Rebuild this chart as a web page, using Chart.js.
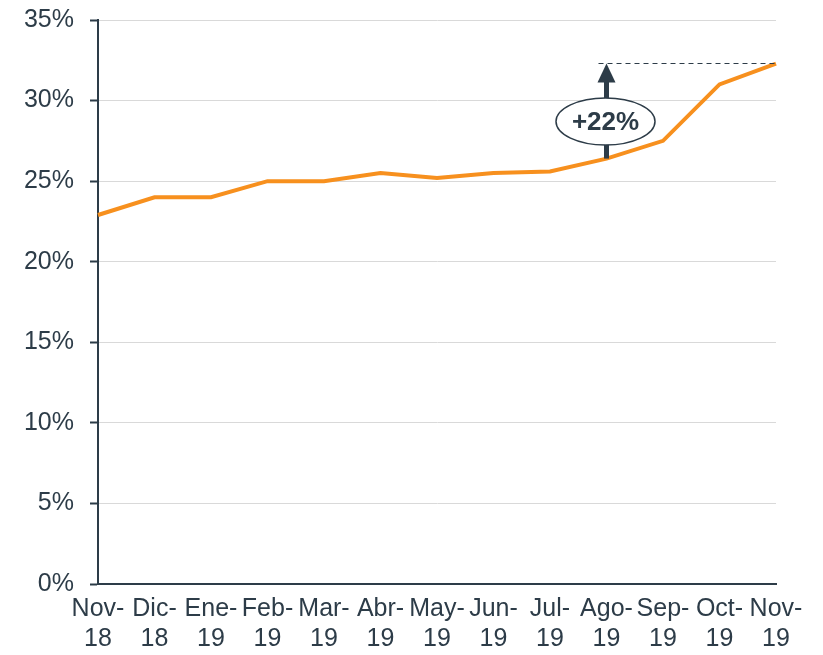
<!DOCTYPE html>
<html>
<head>
<meta charset="utf-8">
<script src="https://cdn.jsdelivr.net/npm/chart.js@4/dist/chart.umd.min.js"></script>
<style>
  html, body { margin: 0; padding: 0; background: #fff; }
  #wrap { width: 823px; height: 655px; position: relative; }
</style>
</head>
<body>
<div id="wrap"><canvas id="share-chart"></canvas></div>
<script>
// Monthly share, Nov-18 to Nov-19
const months = [
  ["Nov-", "18"], ["Dic-", "18"], ["Ene-", "19"], ["Feb-", "19"], ["Mar-", "19"],
  ["Abr-", "19"], ["May-", "19"], ["Jun-", "19"], ["Jul-", "19"], ["Ago-", "19"],
  ["Sep-", "19"], ["Oct-", "19"], ["Nov-", "19"]
];
const shareValues = [22.9, 24.0, 24.0, 25.0, 25.0, 25.5, 25.2, 25.5, 25.6, 26.4, 27.5, 31.0, 32.3];
const yTicks = [0, 5, 10, 15, 20, 25, 30, 35];

// growth callout: from Ago-19 up to the last month
const growthFrom = 9;
const growthTo = 12;
const growthLabel = "+22%";
const growthLabelValue = 28.7;

const ink = "#2d3c48";
const orange = "#f7901e";

// draws the arrow, dashed level line and the ellipse label
const growthCallout = {
  id: "growthCallout",
  afterDatasetsDraw(chart) {
    const ctx = chart.ctx;
    const x = chart.scales.x;
    const y = chart.scales.y;
    const ax = x.getPixelForValue(growthFrom);
    const yBottom = y.getPixelForValue(shareValues[growthFrom]);
    const yTop = y.getPixelForValue(shareValues[growthTo]);
    const xEnd = x.getPixelForValue(growthTo);

    ctx.save();
    // dashed level line
    ctx.strokeStyle = ink;
    ctx.lineWidth = 1;
    ctx.setLineDash([5, 4]);
    ctx.beginPath();
    ctx.moveTo(ax - 8, yTop);
    ctx.lineTo(xEnd, yTop);
    ctx.stroke();
    ctx.setLineDash([]);

    // arrow shaft and head
    ctx.fillStyle = ink;
    ctx.fillRect(ax - 2.5, yTop + 18, 5, yBottom - yTop - 18);
    ctx.beginPath();
    ctx.moveTo(ax, yTop);
    ctx.lineTo(ax - 9, yTop + 19);
    ctx.lineTo(ax + 9, yTop + 19);
    ctx.closePath();
    ctx.fill();

    // ellipse label
    const ly = y.getPixelForValue(growthLabelValue);
    ctx.beginPath();
    ctx.ellipse(ax - 1, ly, 49.5, 23.5, 0, 0, Math.PI * 2);
    ctx.fillStyle = "#fff";
    ctx.fill();
    ctx.lineWidth = 1.5;
    ctx.strokeStyle = ink;
    ctx.stroke();
    ctx.fillStyle = ink;
    ctx.font = "bold 26px 'Liberation Sans', Arial, sans-serif";
    ctx.textAlign = "center";
    ctx.textBaseline = "middle";
    ctx.fillText(growthLabel, ax - 1, ly + 1);
    ctx.restore();
  }
};

const ctx = document.getElementById("share-chart").getContext("2d");
new Chart(ctx, {
  type: "line",
  data: {
    labels: months,
    datasets: [{
      data: shareValues,
      borderColor: orange,
      borderWidth: 4,
      pointRadius: 0,
      tension: 0,
      fill: false
    }]
  },
  options: {
    responsive: true,
    maintainAspectRatio: false,
    animation: false,
    layout: { padding: { top: 20, right: 47, left: 0, bottom: 0 } },
    plugins: {
      legend: { display: false },
      tooltip: { enabled: false }
    },
    scales: {
      x: {
        offset: false,
        grid: { display: false, drawTicks: false },
        border: { color: ink, width: 2 },
        ticks: {
          color: ink,
          font: { family: "'Liberation Sans', Arial, sans-serif", size: 25, lineHeight: 1.2 },
          maxRotation: 0,
          minRotation: 0,
          autoSkip: false,
          padding: 10
        },
        afterFit(scale) { scale.height = 71; }
      },
      y: {
        min: 0,
        max: 35,
        afterBuildTicks(scale) { scale.ticks = yTicks.map(v => ({ value: v })); },
        grid: {
          color: "#d9d9d9",
          lineWidth: 1,
          drawTicks: true,
          tickLength: 8,
          tickColor: ink,
          tickWidth: 2
        },
        border: { color: ink, width: 2 },
        ticks: {
          color: ink,
          font: { family: "'Liberation Sans', Arial, sans-serif", size: 25 },
          padding: 16,
          callback: v => v + "%"
        },
        afterFit(scale) {
          scale.width = 98;
          scale.paddingTop = 0;
          scale.paddingBottom = 0;
        }
      }
    }
  },
  plugins: [growthCallout]
});
</script>
</body>
</html>
